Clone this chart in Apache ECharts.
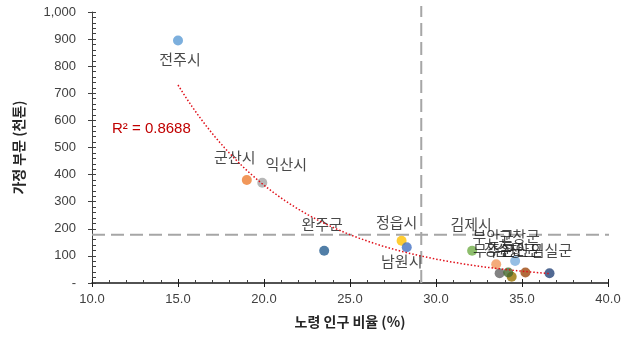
<!DOCTYPE html>
<html>
<head>
<meta charset="utf-8">
<script src="https://cdn.jsdelivr.net/npm/echarts@6/dist/echarts.min.js"></script>
<style>
  html, body { margin: 0; padding: 0; background: #ffffff; }
  #chart { width: 628px; height: 337px; }
</style>
</head>
<body>
<div id="chart"></div>
<script>
// 전라북도 시군별 노령 인구 비율(%)과 가정 부문 배출량(천톤)
const regions = ['전주시', '군산시', '익산시', '정읍시', '남원시', '김제시', '완주군',
                 '진안군', '무주군', '장수군', '임실군', '순창군', '고창군', '부안군'];
const agingRatio = [15.0, 19.0, 19.9, 28.0, 28.3, 32.1, 23.5,
                    35.2, 33.7, 34.4, 36.6, 34.2, 34.6, 33.5];
const householdSector = [895, 380, 370, 156, 132, 119, 119,
                         39, 36, 23, 36, 39, 81, 69];
const r2Text = 'R² = 0.8688';

// marker colours, one per region
const pointColors = ['#5B9BD5', '#ED7D31', '#A5A5A5', '#FFC000', '#4472C4', '#70AD47', '#255E91',
                     '#9E480E', '#636363', '#997300', '#264478', '#43682B', '#7CAFDD', '#F1975A'];
// label placement relative to each marker centre (px)
const labelOffsets = [[2, 19], [-12, -23], [24, -18], [-5, -18], [-5, 14], [-1, -26], [-2, -26],
                      [-3, -22], [-6, -23], [-7, -27], [2, -23], [7, -22], [4, -25], [-3, -28]];
const markerSize = 10;

// averages used for the dashed reference lines
const n = agingRatio.length;
const meanX = agingRatio.reduce((a, b) => a + b, 0) / n;
const meanY = householdSector.reduce((a, b) => a + b, 0) / n;

// exponential trend: least squares on ln(y)
const lnY = householdSector.map(v => Math.log(v));
const mly = lnY.reduce((a, b) => a + b, 0) / n;
let sxy = 0, sxx = 0;
for (let i = 0; i < n; i++) {
  sxy += (agingRatio[i] - meanX) * (lnY[i] - mly);
  sxx += (agingRatio[i] - meanX) * (agingRatio[i] - meanX);
}
const slope = sxy / sxx;
const intercept = mly - slope * meanX;
const xMin = Math.min(...agingRatio), xMax = Math.max(...agingRatio);
const trend = [];
for (let k = 0; k <= 80; k++) {
  const x = xMin + (xMax - xMin) * k / 80;
  trend.push([x, Math.exp(intercept + slope * x)]);
}

const half = markerSize / 2;
const points = regions.map((name, i) => ({
  name: name,
  value: [agingRatio[i], householdSector[i]],
  itemStyle: { color: pointColors[i] },
  label: {
    position: [half + labelOffsets[i][0], half + labelOffsets[i][1]],
    align: 'center', verticalAlign: 'middle'
  }
}));

const tickFont = { fontFamily: 'Liberation Sans', fontSize: 13, color: '#404040' };
const chart = echarts.init(document.getElementById('chart'));
chart.setOption({
  animation: false,
  grid: { left: 92, right: 20, top: 12, bottom: 54, containLabel: false },
  xAxis: [{
    type: 'value', min: 10, max: 40, interval: 5, position: 'bottom',
    name: '노령 인구 비율 (%)', nameLocation: 'middle', nameGap: 32,
    nameTextStyle: { fontFamily: 'Noto Sans CJK KR', fontWeight: 'bold', fontSize: 14, color: '#262626' },
    axisLine: { show: true, onZero: false, lineStyle: { color: '#1a1a1a', width: 1.5 } },
    axisTick: { show: true, inside: false, length: 4, lineStyle: { color: '#1a1a1a' } },
    axisLabel: Object.assign({ margin: 10, formatter: v => v.toFixed(1) }, tickFont),
    splitLine: { show: false }
  }, {
    type: 'value', min: 10, max: 40, interval: 5, position: 'bottom', offset: 0,
    axisLine: { show: false },
    axisTick: { show: true, inside: true, length: 4, lineStyle: { color: '#1a1a1a' } },
    minorTick: { show: true, splitNumber: 5, length: 3, lineStyle: { color: '#404040' } },
    axisLabel: { show: false },
    splitLine: { show: false }
  }],
  yAxis: [{
    type: 'value', min: 0, max: 1000, interval: 100, position: 'left',
    name: '가정 부문 (천톤)', nameLocation: 'middle', nameGap: 66, nameRotate: 90,
    nameTextStyle: { fontFamily: 'Noto Sans CJK KR', fontWeight: 'bold', fontSize: 14, color: '#262626' },
    axisLine: { show: true, onZero: false, lineStyle: { color: '#404040', width: 1 } },
    axisTick: { show: true, inside: false, length: 4, lineStyle: { color: '#404040' } },
    axisLabel: Object.assign({
      margin: 16,
      formatter: v => v === 0 ? '-' : v.toLocaleString('en-US')
    }, tickFont),
    splitLine: { show: false }
  }, {
    type: 'value', min: 0, max: 1000, interval: 100, position: 'left', offset: 0,
    axisLine: { show: false },
    axisTick: { show: true, inside: true, length: 4, lineStyle: { color: '#404040' } },
    minorTick: { show: true, splitNumber: 5, length: 4, lineStyle: { color: '#404040' } },
    axisLabel: { show: false },
    splitLine: { show: false }
  }],
  graphic: [{
    type: 'text', left: 112, top: 121, z: 10,
    style: { text: r2Text, fill: '#C00000', font: '15px "Liberation Sans"' }
  }],
  series: [{
    type: 'line', name: 'meanX', clip: false, symbol: 'none', z: 1,
    data: [[meanX, 0], [meanX, 1022]],
    lineStyle: { color: '#A6A6A6', width: 2, type: [13, 6] }
  }, {
    type: 'line', name: 'meanY', clip: false, symbol: 'none', z: 1,
    data: [[10, meanY], [40.7, meanY]],
    lineStyle: { color: '#A6A6A6', width: 2, type: [13, 6] }
  }, {
    type: 'scatter', name: 'regions', symbol: 'circle', symbolSize: markerSize, z: 3,
    data: points,
    label: {
      show: true, formatter: '{b}',
      fontFamily: 'Noto Sans CJK KR', fontSize: 15, color: '#1a1a1a'
    },
    labelLayout: { hideOverlap: false }
  }, {
    type: 'line', name: 'trend', symbol: 'none', z: 4, smooth: false,
    data: trend,
    lineStyle: { color: '#E0101A', width: 1.5, type: [1.5, 2] }
  }]
});
</script>
</body>
</html>
